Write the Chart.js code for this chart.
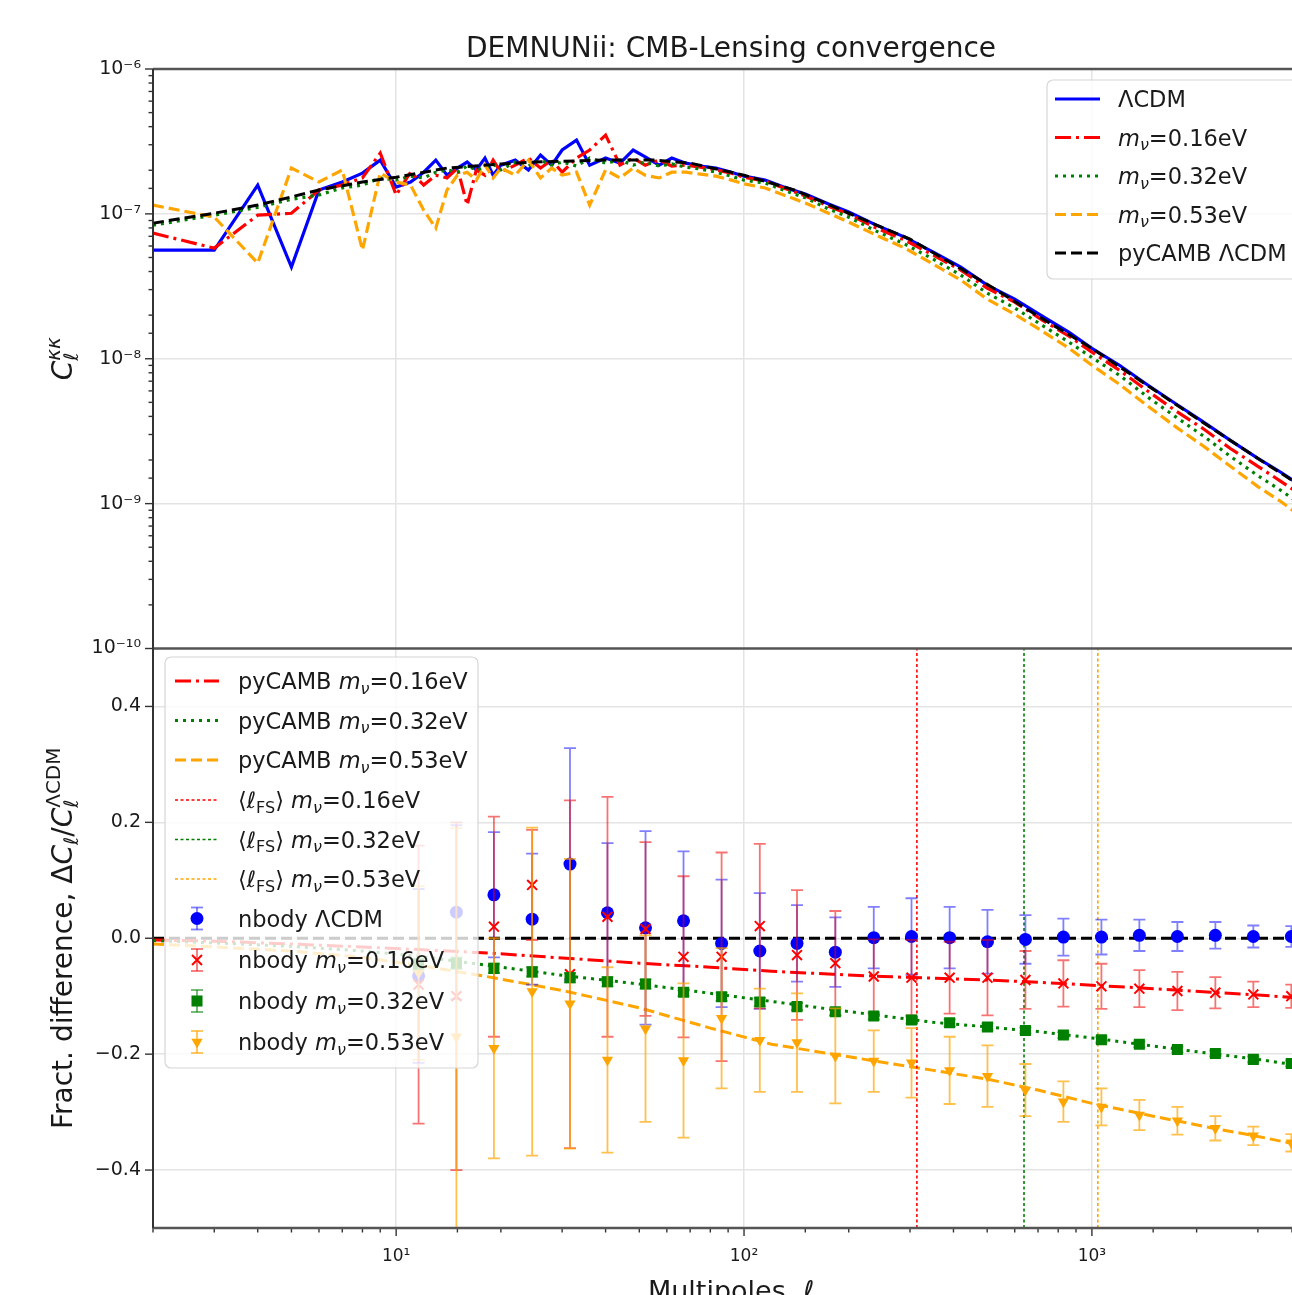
<!DOCTYPE html>
<html>
<head>
<meta charset="utf-8">
<script src="https://cdn.jsdelivr.net/npm/chart.js@4.4.1/dist/chart.umd.min.js"></script>
<style>
  html, body { margin: 0; padding: 0; overflow: hidden; background: #fff; }
  canvas { display: block; }
</style>
</head>
<body>
<canvas id="cl" width="1301" height="1295" style="width:1301px;height:1295px"></canvas>
<script>
var ellTop = [2,3,4,5,6,7,8,9,10,11,12,13,14,15,16,17,18,19,20,22,24,26,28,30,33,36,40,44,48,52,57,62,68,75,83,92,100,
  115,130,150,175,200,240,290,350,420,500,600,720,860,1000,1200,1450,1750,2100,2500,3000,3500,4100];
var clLcdm = [5.62e-8,5.62e-8,1.58e-7,4.29e-8,1.46e-7,1.66e-7,1.91e-7,2.35e-7,1.53e-7,1.66e-7,1.94e-7,2.35e-7,1.85e-7,2.07e-7,2.28e-7,2.01e-7,2.43e-7,1.85e-7,2.17e-7,
  2.35e-7,2.01e-7,2.55e-7,2.17e-7,2.76e-7,3.23e-7,2.17e-7,2.43e-7,2.24e-7,2.76e-7,2.47e-7,2.17e-7,2.43e-7,2.24e-7,2.14e-7,2.07e-7,1.94e-7,1.82e-7,
  1.71e-7,1.53e-7,1.37e-7,1.17e-7,1.03e-7,8.36e-8,6.91e-8,5.44e-8,4.29e-8,3.22e-8,2.58e-8,1.97e-8,1.52e-8,1.18e-8,9.02e-9,6.56e-9,4.85e-9,3.64e-9,2.73e-9,2.05e-9,1.64e-9,1.27e-9];
var clNu016 = [7.36e-8,5.80e-8,9.80e-8,1.01e-7,1.46e-7,1.58e-7,1.77e-7,2.63e-7,1.35e-7,1.94e-7,1.58e-7,1.85e-7,1.77e-7,2.07e-7,1.15e-7,2.01e-7,1.85e-7,2.35e-7,1.94e-7,
  2.17e-7,2.43e-7,2.07e-7,2.35e-7,1.94e-7,2.43e-7,2.76e-7,3.50e-7,2.17e-7,2.43e-7,2.17e-7,2.35e-7,2.14e-7,2.17e-7,2.10e-7,2.01e-7,1.91e-7,1.79e-7,
  1.68e-7,1.51e-7,1.33e-7,1.13e-7,9.96e-8,7.97e-8,6.59e-8,5.19e-8,4.09e-8,3.07e-8,2.46e-8,1.85e-8,1.43e-8,1.11e-8,8.33e-9,5.96e-9,4.34e-9,3.26e-9,2.40e-9,1.81e-9,1.42e-9,1.10e-9];
var clNu032 = [8.36e-8,9.80e-8,1.11e-7,1.26e-7,1.35e-7,1.51e-7,1.58e-7,1.77e-7,1.71e-7,1.82e-7,1.77e-7,1.94e-7,2.01e-7,1.94e-7,2.14e-7,2.01e-7,2.07e-7,2.21e-7,2.01e-7,
  2.28e-7,2.14e-7,2.35e-7,2.17e-7,2.28e-7,2.14e-7,2.43e-7,2.24e-7,2.35e-7,2.17e-7,2.28e-7,2.14e-7,2.21e-7,2.10e-7,2.04e-7,1.94e-7,1.82e-7,1.71e-7,
  1.63e-7,1.46e-7,1.29e-7,1.08e-7,9.49e-8,7.60e-8,6.18e-8,4.87e-8,3.78e-8,2.84e-8,2.24e-8,1.70e-8,1.30e-8,1.02e-8,7.69e-9,5.42e-9,3.94e-9,2.91e-9,2.12e-9,1.56e-9,1.23e-9,9.39e-10];
var clNu053 = [1.15e-7,9.50e-8,4.57e-8,2.07e-7,1.66e-7,2.01e-7,5.62e-8,1.91e-7,1.66e-7,1.58e-7,1.06e-7,7.97e-8,1.46e-7,1.85e-7,1.94e-7,1.71e-7,2.17e-7,1.77e-7,2.07e-7,
  1.85e-7,2.35e-7,1.77e-7,2.07e-7,1.85e-7,1.94e-7,1.15e-7,2.01e-7,1.77e-7,2.07e-7,1.85e-7,1.77e-7,1.94e-7,1.94e-7,1.88e-7,1.82e-7,1.71e-7,1.61e-7,
  1.51e-7,1.35e-7,1.19e-7,1.01e-7,8.77e-8,7.13e-8,5.80e-8,4.50e-8,3.49e-8,2.58e-8,2.03e-8,1.55e-8,1.18e-8,9.02e-9,6.66e-9,4.70e-9,3.36e-9,2.48e-9,1.81e-9,1.31e-9,1.03e-9,7.76e-10];

// pyCAMB LCDM theory curve
var ellCamb = [2,3,4,5,6,8,10,14,20,25,30,40,55,70,100,140,200,300,500,700,1000,1500,2000,3000,4100];
var clCamb = [8.63e-8,1.01e-7,1.15e-7,1.31e-7,1.46e-7,1.66e-7,1.79e-7,2.07e-7,2.21e-7,2.28e-7,2.31e-7,2.35e-7,2.35e-7,2.24e-7,1.85e-7,1.46e-7,1.01e-7,6.69e-8,3.27e-8,1.97e-8,1.18e-8,6.16e-9,3.88e-9,2.05e-9,1.27e-9];

// ---- bottom panel: fractional differences ----
var ellRatio = [2,3,5,8,12,19,30,50,80,120,180,250,350,500,700,1000,1500,2200,3000,4200];
var ratioCamb016 = [-0.003,-0.005,-0.010,-0.015,-0.020,-0.026,-0.034,-0.043,-0.050,-0.057,-0.062,-0.066,-0.069,-0.072,-0.076,-0.081,-0.087,-0.093,-0.098,-0.104];
var ratioCamb032 = [-0.004,-0.008,-0.014,-0.022,-0.032,-0.048,-0.064,-0.079,-0.095,-0.109,-0.123,-0.134,-0.145,-0.153,-0.161,-0.172,-0.186,-0.199,-0.209,-0.222];
var ratioCamb053 = [-0.010,-0.015,-0.022,-0.033,-0.048,-0.068,-0.090,-0.120,-0.155,-0.183,-0.200,-0.214,-0.228,-0.243,-0.262,-0.285,-0.307,-0.327,-0.342,-0.360];
var ellZero = [2, 4200];
var ratioZero = [0, 0];

var ellFS = [314, 638, 1040];
var fsSpan = [-0.5, 0.5];

var ellNbody = [11.6,14.9,19.1,24.6,31.6,40.5,52.1,67.0,86.2,111,142,183,236,303,390,501,644,828,1065,1369,1761,2264,2911,3743];
var nbLcdm = [-0.065,0.045,0.075,0.033,0.128,0.044,0.018,0.030,-0.009,-0.022,-0.009,-0.024,0.001,0.003,0.001,-0.006,-0.002,0.002,0.002,0.005,0.003,0.005,0.003,0.003];
var nbLcdmErr = [0.15,0.15,0.108,0.113,0.20,0.12,0.167,0.12,0.11,0.10,0.066,0.06,0.053,0.066,0.053,0.055,0.042,0.032,0.030,0.027,0.025,0.023,0.019,0.018];
var nb016 = [-0.08,-0.10,0.020,0.092,-0.062,0.037,0.016,-0.032,-0.032,0.021,-0.029,-0.043,-0.066,-0.068,-0.068,-0.068,-0.072,-0.078,-0.083,-0.087,-0.091,-0.094,-0.097,-0.100];
var nb016Err = [0.24,0.30,0.19,0.095,0.30,0.207,0.15,0.139,0.18,0.142,0.112,0.09,0.064,0.065,0.062,0.065,0.05,0.04,0.039,0.032,0.033,0.027,0.022,0.02];
var nb032 = [-0.045,-0.043,-0.052,-0.058,-0.068,-0.075,-0.079,-0.093,-0.101,-0.110,-0.118,-0.127,-0.134,-0.141,-0.146,-0.153,-0.159,-0.167,-0.175,-0.183,-0.192,-0.199,-0.209,-0.216];
var nb032Err = [0.01,0.01,0.008,0.008,0.008,0.008,0.008,0.007,0.007,0.007,0.006,0.006,0.006,0.006,0.006,0.006,0.005,0.005,0.005,0.005,0.005,0.005,0.005,0.005];
var nb053 = [-0.06,-0.17,-0.19,-0.092,-0.113,-0.21,-0.156,-0.211,-0.138,-0.176,-0.18,-0.203,-0.212,-0.215,-0.228,-0.238,-0.262,-0.282,-0.291,-0.305,-0.315,-0.328,-0.341,-0.353];
var nb053Err = [0.15,0.36,0.19,0.283,0.25,0.16,0.161,0.133,0.121,0.089,0.085,0.082,0.053,0.06,0.058,0.053,0.045,0.035,0.032,0.026,0.024,0.021,0.016,0.015];

// ---- tick labels ----
var xTickVals = [10, 100, 1000];
var xTickText = ['10\u00b9', '10\u00b2', '10\u00b3'];
var topTickVals = [1e-10, 1e-9, 1e-8, 1e-7, 1e-6];
var topTickText = ['10\u207b\u00b9\u2070', '10\u207b\u2079', '10\u207b\u2078', '10\u207b\u2077', '10\u207b\u2076'];
var botTickVals = [-0.4, -0.2, 0, 0.2, 0.4];
var botTickText = ['\u22120.4', '\u22120.2', '0.0', '0.2', '0.4'];

var FONT = '"DejaVu Sans", "Noto Sans", sans-serif';
var TEXT = '#1a1a1a';
var GRID = '#e4e4e4';
var NONE = 'rgba(0,0,0,0)';
var BLUE = '#0000ff', RED = '#ff0000', GREEN = '#008000', ORANGE = '#ffa500', BLACK = '#000000';
var DASHDOT = [16, 5, 3, 5], DOTTED = [3, 5], DASHED = [11, 5], FSDASH = [3, 2.5];

function pts(xs, ys) {
  return xs.map(function(x, i) { return {x: x, y: ys[i]}; });
}
function isPow10(v) {
  var l = Math.log10(v);
  return Math.abs(l - Math.round(l)) < 1e-6;
}
function lookupLog(v, vals, text) {
  for (var i = 0; i < vals.length; i++) {
    if (Math.abs(Math.log10(v) - Math.log10(vals[i])) < 1e-6) return text[i];
  }
  return '';
}
function lookupLin(v, vals, text) {
  for (var i = 0; i < vals.length; i++) {
    if (Math.abs(v - vals[i]) < 1e-9) return text[i];
  }
  return '';
}

function lineSet(label, xs, ys, axis, color, dash, lw, order) {
  return {label: label, data: pts(xs, ys), yAxisID: axis, borderColor: color, backgroundColor: color,
    borderDash: dash, borderWidth: lw, pointRadius: 0, fill: false, tension: 0, order: order};
}
function nbodySet(label, ys, errs, color, errColor, style, r, rot, order) {
  return {label: label, data: pts(ellNbody, ys), errors: errs, errColor: errColor, yAxisID: 'yBot',
    showLine: false, pointStyle: style, pointRadius: r, pointRotation: rot,
    pointBackgroundColor: color, pointBorderColor: color, pointBorderWidth: style === 'crossRot' ? 2 : 0,
    borderColor: color, backgroundColor: color, order: order};
}

var datasets = [
  lineSet('LCDM', ellTop, clLcdm, 'yTop', BLUE, [], 3.2, 16),
  lineSet('mnu 0.16', ellTop, clNu016, 'yTop', RED, DASHDOT, 3.2, 15),
  lineSet('mnu 0.32', ellTop, clNu032, 'yTop', GREEN, DOTTED, 3.2, 14),
  lineSet('mnu 0.53', ellTop, clNu053, 'yTop', ORANGE, DASHED, 3.2, 13),
  lineSet('pyCAMB LCDM', ellCamb, clCamb, 'yTop', BLACK, DASHED, 3, 12),
  lineSet('zero', ellZero, ratioZero, 'yBot', BLACK, DASHED, 3, 11),
  lineSet('pyCAMB 0.16', ellRatio, ratioCamb016, 'yBot', RED, DASHDOT, 3, 10),
  lineSet('pyCAMB 0.32', ellRatio, ratioCamb032, 'yBot', GREEN, DOTTED, 3, 9),
  lineSet('pyCAMB 0.53', ellRatio, ratioCamb053, 'yBot', ORANGE, DASHED, 3, 8),
  lineSet('lFS 0.16', [ellFS[0], ellFS[0]], fsSpan, 'yBot', RED, FSDASH, 1.6, 7),
  lineSet('lFS 0.32', [ellFS[1], ellFS[1]], fsSpan, 'yBot', GREEN, FSDASH, 1.6, 6),
  lineSet('lFS 0.53', [ellFS[2], ellFS[2]], fsSpan, 'yBot', ORANGE, FSDASH, 1.6, 5),
  nbodySet('nbody LCDM', nbLcdm, nbLcdmErr, BLUE, 'rgba(0,0,255,0.5)', 'circle', 6.5, 0, 4),
  nbodySet('nbody 0.16', nb016, nb016Err, RED, 'rgba(240,0,0,0.55)', 'crossRot', 7, 0, 3),
  nbodySet('nbody 0.32', nb032, nb032Err, GREEN, 'rgba(0,128,0,0.6)', 'rect', 7.8, 0, 2),
  nbodySet('nbody 0.53', nb053, nb053Err, ORANGE, 'rgba(255,165,0,0.7)', 'triangle', 6.5, 180, 1)
];

// rich text: segments [text, style]; style letters: i italic, b subscript, p superscript, 0 no advance
function drawRich(ctx, segs, x, y, size, align) {
  var items = segs.map(function(s) {
    var st = s[1] || '';
    var small = st.indexOf('b') >= 0 || st.indexOf('p') >= 0;
    var fs = small ? Math.round(size * 0.7) : size;
    var font = (st.indexOf('i') >= 0 ? 'italic ' : '') + fs + 'px ' + FONT;
    ctx.font = font;
    var w = ctx.measureText(s[0]).width;
    var dy = st.indexOf('b') >= 0 ? size * 0.22 : (st.indexOf('p') >= 0 ? -size * 0.42 : 0);
    return {t: s[0], font: font, dy: dy, adv: st.indexOf('0') >= 0 ? 0 : w};
  });
  var total = items.reduce(function(a, it) { return a + it.adv; }, 0);
  var cx = align === 'center' ? x - total / 2 : x;
  ctx.fillStyle = TEXT;
  ctx.textAlign = 'left';
  ctx.textBaseline = 'alphabetic';
  items.forEach(function(it) {
    ctx.font = it.font;
    ctx.fillText(it.t, cx, y + it.dy);
    cx += it.adv;
  });
}

function seg(ctx, x0, y0, x1, y1) {
  ctx.beginPath(); ctx.moveTo(x0, y0); ctx.lineTo(x1, y1); ctx.stroke();
}

function marker(ctx, style, x, y, r, color) {
  ctx.save();
  ctx.fillStyle = color; ctx.strokeStyle = color; ctx.lineWidth = 2;
  ctx.beginPath();
  if (style === 'circle') { ctx.arc(x, y, r, 0, 2 * Math.PI); ctx.fill(); }
  else if (style === 'rect') { var s = r * Math.SQRT1_2; ctx.fillRect(x - s, y - s, 2 * s, 2 * s); }
  else if (style === 'crossRot') {
    var d = r * Math.SQRT1_2;
    ctx.moveTo(x - d, y - d); ctx.lineTo(x + d, y + d);
    ctx.moveTo(x + d, y - d); ctx.lineTo(x - d, y + d); ctx.stroke();
  } else if (style === 'triangle') {
    ctx.moveTo(x, y + r); ctx.lineTo(x - r * 0.866, y - r / 2); ctx.lineTo(x + r * 0.866, y - r / 2);
    ctx.closePath(); ctx.fill();
  }
  ctx.restore();
}

function legendBox(ctx, x, y, w, h) {
  ctx.save();
  ctx.fillStyle = 'rgba(255,255,255,0.8)';
  ctx.strokeStyle = '#d6d6d6';
  ctx.lineWidth = 1.2;
  ctx.beginPath();
  ctx.roundRect(x, y, w, h, 6);
  ctx.fill(); ctx.stroke();
  ctx.restore();
}

var MNU = function(v) { return [['m', 'i'], ['\u03bd', 'ib'], ['=' + v + 'eV']]; };

var topLegend = [
  {segs: [['\u039bCDM']], color: BLUE, dash: []},
  {segs: MNU('0.16'), color: RED, dash: DASHDOT},
  {segs: MNU('0.32'), color: GREEN, dash: DOTTED},
  {segs: MNU('0.53'), color: ORANGE, dash: DASHED},
  {segs: [['pyCAMB \u039bCDM']], color: BLACK, dash: DASHED}
];
var topRows = [99, 137.5, 176, 214.5, 253];

var FS = [['\u27e8'], ['\u2113', 'i'], ['FS', 'b'], ['\u27e9 ']];
var botLegend = [
  {segs: [['pyCAMB ']].concat(MNU('0.16')), color: RED, dash: DASHDOT, lw: 3},
  {segs: [['pyCAMB ']].concat(MNU('0.32')), color: GREEN, dash: DOTTED, lw: 3},
  {segs: [['pyCAMB ']].concat(MNU('0.53')), color: ORANGE, dash: DASHED, lw: 3},
  {segs: FS.concat(MNU('0.16')), color: RED, dash: FSDASH, lw: 1.6},
  {segs: FS.concat(MNU('0.32')), color: GREEN, dash: FSDASH, lw: 1.6},
  {segs: FS.concat(MNU('0.53')), color: ORANGE, dash: FSDASH, lw: 1.6},
  {segs: [['nbody \u039bCDM']], ds: 12},
  {segs: [['nbody ']].concat(MNU('0.16')), ds: 13},
  {segs: [['nbody ']].concat(MNU('0.32')), ds: 14},
  {segs: [['nbody ']].concat(MNU('0.53')), ds: 15}
];
var botRows = [681, 720.5, 760, 800, 839.5, 879, 918.5, 960, 1001, 1042];

var panels = {
  id: 'panels',
  beforeDatasetDraw: function(chart, args) {
    var ds = chart.data.datasets[args.index];
    if (!ds.errors) return;
    var ctx = chart.ctx, ys = chart.scales.yBot, a = chart.chartArea;
    ctx.save();
    ctx.beginPath();
    ctx.rect(a.left, ys.top, a.right - a.left, ys.bottom - ys.top);
    ctx.clip();
    ctx.strokeStyle = ds.errColor;
    ctx.lineWidth = 1.8;
    args.meta.data.forEach(function(p, i) {
      var v = ds.data[i].y, e = ds.errors[i];
      var y0 = ys.getPixelForValue(v - e), y1 = ys.getPixelForValue(v + e);
      ctx.beginPath();
      ctx.moveTo(p.x, y0); ctx.lineTo(p.x, y1);
      ctx.moveTo(p.x - 6, y0); ctx.lineTo(p.x + 6, y0);
      ctx.moveTo(p.x - 6, y1); ctx.lineTo(p.x + 6, y1);
      ctx.stroke();
    });
    ctx.restore();
  },
  afterDraw: function(chart) {
    var ctx = chart.ctx, a = chart.chartArea;
    var xs = chart.scales.x, yt = chart.scales.yTop, yb = chart.scales.yBot;
    ctx.save();

    // tick marks
    ctx.strokeStyle = '#333';
    ctx.lineWidth = 1.4;
    yt.ticks.forEach(function(t) {
      var p = yt.getPixelForValue(t.value);
      seg(ctx, a.left - (isPow10(t.value) ? 8 : 4.5), p, a.left, p);
    });
    yb.ticks.forEach(function(t) {
      var p = yb.getPixelForValue(t.value);
      seg(ctx, a.left - 8, p, a.left, p);
    });
    xs.ticks.forEach(function(t) {
      var p = xs.getPixelForValue(t.value);
      if (p < a.left - 0.5 || p > a.right + 0.5) return;
      seg(ctx, p, a.bottom, p, a.bottom + (isPow10(t.value) ? 8 : 4.5));
    });

    // spines (the right one lies outside the picture)
    ctx.strokeStyle = '#555';
    ctx.lineWidth = 2.6;
    seg(ctx, a.left, a.top, a.right, a.top);
    seg(ctx, a.left, yt.bottom, a.right, yt.bottom);
    seg(ctx, a.left, a.bottom, a.right, a.bottom);
    ctx.strokeStyle = '#333';
    ctx.lineWidth = 2;
    seg(ctx, a.left, a.top, a.left, a.bottom);

    // titles
    var cxm = 731;
    drawRich(ctx, [['DEMNUNii: CMB-Lensing convergence']], cxm, 57, 28, 'center');
    drawRich(ctx, [['Multipoles, '], ['\u2113', 'i']], cxm, 1300, 27, 'center');

    ctx.save();
    ctx.translate(72, (yt.top + yt.bottom) / 2);
    ctx.rotate(-Math.PI / 2);
    drawRich(ctx, [['C', 'i'], ['\u2113', 'ib0'], ['\u03ba\u03ba', 'ip']], 0, 0, 28, 'center');
    ctx.restore();

    ctx.save();
    ctx.translate(72, (yb.top + yb.bottom) / 2);
    ctx.rotate(-Math.PI / 2);
    drawRich(ctx, [['Fract. difference, \u0394'], ['C', 'i'], ['\u2113', 'ib'], ['/'], ['C', 'i'],
      ['\u2113', 'ib0'], ['\u039bCDM', 'p']], 0, 0, 28, 'center');
    ctx.restore();

    // top legend (runs off the right edge like the original)
    legendBox(ctx, 1047, 80, 254, 199);
    topLegend.forEach(function(e, i) {
      var y = topRows[i];
      ctx.save();
      ctx.strokeStyle = e.color; ctx.lineWidth = 3; ctx.setLineDash(e.dash);
      seg(ctx, 1055, y, 1100, y);
      ctx.restore();
      drawRich(ctx, e.segs, 1118, y + 8, 22.5, 'left');
    });

    // bottom legend
    legendBox(ctx, 165, 657, 313, 411);
    botLegend.forEach(function(e, i) {
      var y = botRows[i];
      if (e.ds !== undefined) {
        var d = chart.data.datasets[e.ds];
        ctx.save();
        ctx.strokeStyle = d.errColor; ctx.lineWidth = 1.8;
        seg(ctx, 197, y - 11, 197, y + 11);
        seg(ctx, 191, y - 11, 203, y - 11);
        seg(ctx, 191, y + 11, 203, y + 11);
        ctx.restore();
        marker(ctx, d.pointStyle, 197, y, d.pointRadius, d.pointBackgroundColor);
      } else {
        ctx.save();
        ctx.strokeStyle = e.color; ctx.lineWidth = e.lw; ctx.setLineDash(e.dash);
        seg(ctx, 175, y, 219, y);
        ctx.restore();
      }
      drawRich(ctx, e.segs, 238, y + 8, 22.5, 'left');
    });

    ctx.restore();
  }
};

Chart.defaults.font.family = FONT;

new Chart(document.getElementById('cl'), {
  type: 'line',
  data: {datasets: datasets},
  options: {
    responsive: false,
    animation: false,
    layout: {padding: {top: 69, right: 0, bottom: 0, left: 0}},
    plugins: {legend: {display: false}, tooltip: {enabled: false}, title: {display: false}},
    scales: {
      x: {
        type: 'logarithmic', min: 2, max: 3760, position: 'bottom',
        afterFit: function(s) { s.height = 67; s.paddingLeft = 0; s.paddingRight = 0; },
        border: {display: false},
        grid: {
          color: function(c) { return c.tick && isPow10(c.tick.value) ? GRID : NONE; },
          lineWidth: 1.5, drawTicks: true, tickLength: 18, tickColor: NONE
        },
        ticks: {
          autoSkip: false, maxRotation: 0, padding: 0, color: TEXT, font: {size: 17},
          callback: function(v) { return lookupLog(v, xTickVals, xTickText); }
        }
      },
      yTop: {
        type: 'logarithmic', min: 1e-10, max: 1e-6, position: 'left',
        stack: 'panels', stackWeight: 1, weight: 1,
        afterFit: function(s) { s.width = 153; s.paddingTop = 0; s.paddingBottom = 0; },
        border: {display: false},
        grid: {
          color: function(c) {
            var v = c.tick && c.tick.value;
            return v && isPow10(v) && v > 1.5e-10 && v < 0.9e-6 ? GRID : NONE;
          },
          lineWidth: 1.5, drawTicks: true, tickLength: 12, tickColor: NONE
        },
        ticks: {
          autoSkip: false, padding: 0, color: TEXT, font: {size: 19},
          callback: function(v) { return lookupLog(v, topTickVals, topTickText); }
        }
      },
      yBot: {
        type: 'linear', min: -0.5, max: 0.5, position: 'left',
        stack: 'panels', stackWeight: 1, weight: 0,
        afterFit: function(s) { s.width = 153; s.paddingTop = 0; s.paddingBottom = 0; },
        afterBuildTicks: function(s) { s.ticks = botTickVals.map(function(v) { return {value: v}; }); },
        border: {display: false},
        grid: {color: GRID, lineWidth: 1.5, drawTicks: true, tickLength: 12, tickColor: NONE},
        ticks: {
          autoSkip: false, padding: 0, color: TEXT, font: {size: 19},
          callback: function(v) { return lookupLin(v, botTickVals, botTickText); }
        }
      }
    }
  },
  plugins: [panels]
});
</script>
</body>
</html>
